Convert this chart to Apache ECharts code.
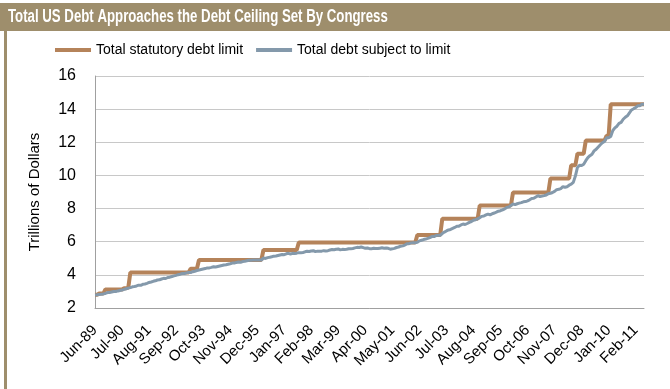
<!DOCTYPE html>
<html>
<head>
<meta charset="utf-8">
<style>
  html, body { margin: 0; padding: 0; background: #ffffff; }
  #chart { width: 670px; height: 389px; }
</style>
<script src="https://cdn.jsdelivr.net/npm/echarts@6.0.0/dist/echarts.min.js"></script>
</head>
<body>
<div id="chart"></div>
<script>
// ---- Data (monthly, Jun-89 .. Jun-11) ----
const startYear = 1989;
const startMonth = 5; // June (0-based)
const monthCount = 265;
const monthNames = ['Jan','Feb','Mar','Apr','May','Jun','Jul','Aug','Sep','Oct','Nov','Dec'];

const titleText = 'Total US Debt Approaches the Debt Ceiling Set By Congress';
const seriesNames = ['Total statutory debt limit', 'Total debt subject to limit'];
const yAxisName = 'Trillions of Dollars';
const yTicks = [2, 4, 6, 8, 10, 12, 14, 16];

// Total statutory debt limit (trillions), each row Jun..May
const debtLimit = [
  2.80, 2.80, 2.87, 2.87, 2.87, 3.12, 3.12, 3.12, 3.12, 3.12, 3.12, 3.12,
  3.12, 3.12, 3.195, 3.195, 3.23, 4.145, 4.145, 4.145, 4.145, 4.145, 4.145, 4.145,
  4.145, 4.145, 4.145, 4.145, 4.145, 4.145, 4.145, 4.145, 4.145, 4.145, 4.145, 4.145,
  4.145, 4.145, 4.145, 4.145, 4.145, 4.145, 4.145, 4.145, 4.145, 4.145, 4.37, 4.37,
  4.37, 4.37, 4.90, 4.90, 4.90, 4.90, 4.90, 4.90, 4.90, 4.90, 4.90, 4.90,
  4.90, 4.90, 4.90, 4.90, 4.90, 4.90, 4.90, 4.90, 4.90, 4.90, 4.90, 4.90,
  4.90, 4.90, 4.90, 4.90, 4.90, 4.90, 4.90, 4.90, 4.90, 5.50, 5.50, 5.50,
  5.50, 5.50, 5.50, 5.50, 5.50, 5.50, 5.50, 5.50, 5.50, 5.50, 5.50, 5.50,
  5.50, 5.50, 5.95, 5.95, 5.95, 5.95, 5.95, 5.95, 5.95, 5.95, 5.95, 5.95,
  5.95, 5.95, 5.95, 5.95, 5.95, 5.95, 5.95, 5.95, 5.95, 5.95, 5.95, 5.95,
  5.95, 5.95, 5.95, 5.95, 5.95, 5.95, 5.95, 5.95, 5.95, 5.95, 5.95, 5.95,
  5.95, 5.95, 5.95, 5.95, 5.95, 5.95, 5.95, 5.95, 5.95, 5.95, 5.95, 5.95,
  5.95, 5.95, 5.95, 5.95, 5.95, 5.95, 5.95, 5.95, 5.95, 5.95, 5.95, 6.40,
  6.40, 6.40, 6.40, 6.40, 6.40, 6.40, 6.40, 6.40, 6.40, 6.40, 6.40, 7.384,
  7.384, 7.384, 7.384, 7.384, 7.384, 7.384, 7.384, 7.384, 7.384, 7.384, 7.384, 7.384,
  7.384, 7.384, 7.384, 7.384, 7.384, 8.184, 8.184, 8.184, 8.184, 8.184, 8.184, 8.184,
  8.184, 8.184, 8.184, 8.184, 8.184, 8.184, 8.184, 8.184, 8.184, 8.965, 8.965, 8.965,
  8.965, 8.965, 8.965, 8.965, 8.965, 8.965, 8.965, 8.965, 8.965, 8.965, 8.965, 8.965,
  8.965, 8.965, 8.965, 9.815, 9.815, 9.815, 9.815, 9.815, 9.815, 9.815, 9.815, 9.815,
  9.815, 10.615, 10.615, 10.615, 11.315, 11.315, 11.315, 11.315, 12.104, 12.104, 12.104, 12.104,
  12.104, 12.104, 12.104, 12.104, 12.104, 12.104, 12.394, 12.394, 14.294, 14.294, 14.294, 14.294,
  14.294, 14.294, 14.294, 14.294, 14.294, 14.294, 14.294, 14.294, 14.294, 14.294, 14.294, 14.294,
  14.294
];

// Total debt subject to limit (trillions), each row Jun..May
const debtSubject = [
  2.79, 2.80, 2.82, 2.83, 2.85, 2.88, 2.93, 2.94, 2.97, 3.00, 2.99, 3.03,
  3.06, 3.08, 3.12, 3.16, 3.20, 3.23, 3.28, 3.30, 3.33, 3.38, 3.37, 3.43,
  3.45, 3.49, 3.54, 3.57, 3.61, 3.64, 3.69, 3.70, 3.75, 3.79, 3.78, 3.84,
  3.86, 3.90, 3.94, 3.97, 4.01, 4.04, 4.08, 4.08, 4.12, 4.15, 4.14, 4.19,
  4.22, 4.26, 4.29, 4.32, 4.35, 4.38, 4.42, 4.42, 4.45, 4.49, 4.47, 4.50,
  4.53, 4.56, 4.59, 4.61, 4.64, 4.67, 4.71, 4.71, 4.75, 4.78, 4.76, 4.80,
  4.82, 4.85, 4.88, 4.88, 4.89, 4.89, 4.89, 4.89, 4.89, 5.02, 4.99, 5.04,
  5.06, 5.09, 5.13, 5.14, 5.17, 5.20, 5.23, 5.22, 5.27, 5.30, 5.26, 5.30,
  5.29, 5.31, 5.34, 5.33, 5.35, 5.39, 5.42, 5.41, 5.44, 5.46, 5.40, 5.43,
  5.42, 5.43, 5.46, 5.44, 5.46, 5.50, 5.53, 5.52, 5.55, 5.56, 5.51, 5.54,
  5.53, 5.55, 5.58, 5.57, 5.59, 5.63, 5.66, 5.65, 5.68, 5.64, 5.60, 5.62,
  5.58, 5.58, 5.60, 5.59, 5.59, 5.61, 5.63, 5.61, 5.62, 5.60, 5.55, 5.57,
  5.60, 5.65, 5.68, 5.73, 5.75, 5.80, 5.87, 5.88, 5.93, 5.94, 5.94, 5.96,
  6.05, 6.09, 6.13, 6.16, 6.20, 6.25, 6.31, 6.31, 6.37, 6.40, 6.37, 6.50,
  6.58, 6.65, 6.71, 6.74, 6.80, 6.86, 6.93, 6.94, 7.01, 7.07, 7.04, 7.10,
  7.17, 7.22, 7.30, 7.33, 7.38, 7.45, 7.53, 7.55, 7.62, 7.67, 7.62, 7.69,
  7.73, 7.78, 7.84, 7.87, 7.92, 7.98, 8.07, 8.10, 8.18, 8.28, 8.24, 8.29,
  8.33, 8.36, 8.41, 8.42, 8.47, 8.53, 8.61, 8.62, 8.70, 8.78, 8.72, 8.75,
  8.78, 8.82, 8.90, 8.92, 8.97, 9.04, 9.14, 9.16, 9.21, 9.32, 9.29, 9.32,
  9.41, 9.47, 9.58, 9.96, 10.48, 10.61, 10.60, 10.68, 10.89, 11.07, 11.19, 11.28,
  11.48, 11.58, 11.72, 11.85, 11.97, 12.05, 12.27, 12.28, 12.35, 12.71, 12.87, 12.97,
  13.14, 13.20, 13.39, 13.51, 13.60, 13.78, 13.95, 14.02, 14.10, 14.20, 14.21, 14.29,
  14.29
];

// Month category labels, e.g. "Jun-89"
const categories = [];
for (let i = 0; i < monthCount; i++) {
  const m = (startMonth + i) % 12;
  const y = startYear + Math.floor((startMonth + i) / 12);
  categories.push(monthNames[m] + '-' + String(y % 100).padStart(2, '0'));
}

const FONT = "'Liberation Sans', Arial, sans-serif";
const colorLimit = '#b5835a';
const colorDebt = '#8499ab';
const frameColor = '#9e8e6c';

const chart = echarts.init(document.getElementById('chart'), null, { renderer: 'canvas' });
chart.setOption({
  animation: false,
  backgroundColor: '#ffffff',
  graphic: [
    { type: 'rect', x: 0, y: 3, shape: { x: 0, y: 0, width: 670, height: 28 }, style: { fill: frameColor }, silent: true },
    { type: 'rect', x: 4, y: 31, shape: { x: 0, y: 0, width: 3, height: 358 }, style: { fill: frameColor }, silent: true },
    { type: 'text', x: 8, y: 8, scaleX: 0.735, scaleY: 1,
      style: { text: titleText, fill: '#ffffff', font: "bold 18px " + FONT, textVerticalAlign: 'top' } }
  ],
  legend: {
    left: 50, top: 38,
    icon: 'rect', itemWidth: 36, itemHeight: 4, itemGap: 13,
    textStyle: { fontFamily: FONT, fontSize: 14, color: '#000000' },
    data: seriesNames
  },
  grid: { left: 95, right: 26, top: 76, bottom: 81, containLabel: false },
  xAxis: {
    type: 'category',
    data: categories,
    boundaryGap: false,
    axisLine: { lineStyle: { color: '#a0a0a0', width: 1 } },
    axisTick: { show: false },
    axisLabel: {
      interval: 12, rotate: 45, margin: 20,
      fontFamily: FONT, fontSize: 15, color: '#000000'
    },
    splitLine: { show: false }
  },
  yAxis: {
    type: 'value',
    min: 2, max: 16, interval: 2,
    name: yAxisName, nameLocation: 'middle', nameRotate: 90, nameGap: 53,
    nameTextStyle: { fontFamily: FONT, fontSize: 15, color: '#000000' },
    axisLine: { show: true, lineStyle: { color: '#a0a0a0', width: 1 } },
    axisTick: { show: false },
    axisLabel: {
      margin: 19, fontFamily: FONT, fontSize: 16, color: '#000000',
      formatter: function (v) { return yTicks.indexOf(v) >= 0 ? String(v) : ''; }
    },
    splitLine: { lineStyle: { color: '#c8c8c8', width: 1 } }
  },
  series: [
    {
      name: seriesNames[0], type: 'line', data: debtLimit,
      showSymbol: false, symbol: 'none',
      itemStyle: { color: colorLimit },
      lineStyle: { color: colorLimit, width: 4 }
    },
    {
      name: seriesNames[1], type: 'line', data: debtSubject,
      showSymbol: false, symbol: 'none',
      itemStyle: { color: colorDebt },
      lineStyle: { color: colorDebt, width: 3 }
    }
  ]
});
</script>
</body>
</html>
